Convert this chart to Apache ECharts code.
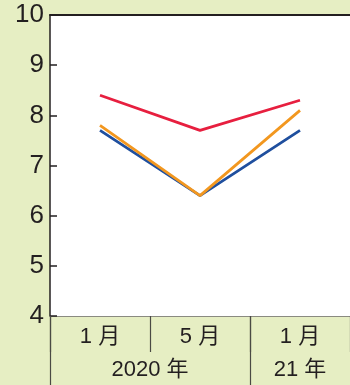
<!DOCTYPE html>
<html>
<head>
<meta charset="utf-8">
<script src="https://cdn.jsdelivr.net/npm/echarts@6/dist/echarts.min.js"></script>
<style>
  html, body { margin: 0; padding: 0; background: #e6eec3; }
  #chart { width: 350px; height: 385px; }
</style>
</head>
<body>
<div id="chart"></div>
<script>
// Month categories and the year groups they belong to
const months = ['1 月', '5 月', '1 月'];
const yearLabels = ['2020 年', '21 年'];
const yearSpans = [2, 1];

// Series values
const redValues = [8.4, 7.7, 8.3];
const orangeValues = [7.8, 6.4, 8.1];
const blueValues = [7.7, 6.4, 7.7];

// y-axis range
const yMin = 4, yMax = 10, yStep = 1;

// Centers and boundaries of the year groups, in category units
const yearCenters = [];
const yearBounds = [0];
let acc = 0;
yearSpans.forEach(s => { yearCenters.push(acc + s / 2); acc += s; yearBounds.push(acc); });

const font = '"Liberation Sans", "Noto Sans CJK JP", sans-serif';
const ink = '#231f20';

const chart = echarts.init(document.getElementById('chart'));
chart.setOption({
  backgroundColor: '#e6eec3',
  animation: false,
  grid: {
    left: 50, right: 0, top: 15, bottom: 69,
    show: true, backgroundColor: '#ffffff', borderWidth: 0
  },
  xAxis: [
    {
      type: 'category',
      data: months,
      boundaryGap: true,
      axisLine: { show: true, lineStyle: { color: '#8a8a80', width: 1 } },
      axisTick: { show: true, length: 36, lineStyle: { color: '#4a4a44', width: 1.2 } },
      axisLabel: { fontFamily: font, fontSize: 22, color: ink, margin: 10 },
      splitLine: { show: false }
    },
    {
      type: 'value',
      min: 0, max: months.length,
      position: 'bottom',
      axisLine: { show: false },
      axisTick: {
        show: true, length: 69,
        customValues: yearBounds.slice(0, -1),
        lineStyle: { color: '#4a4a44', width: 1.2 }
      },
      axisLabel: {
        customValues: yearCenters,
        formatter: v => yearLabels[yearCenters.indexOf(v)] || '',
        fontFamily: font, fontSize: 22, color: ink, margin: 43
      },
      splitLine: { show: false }
    },
    {
      type: 'category',
      data: months,
      position: 'top',
      axisLine: { show: true, lineStyle: { color: ink, width: 2 } },
      axisTick: { show: false },
      axisLabel: { show: false }
    }
  ],
  yAxis: {
    type: 'value',
    min: yMin, max: yMax, interval: yStep,
    axisLine: { show: true, lineStyle: { color: ink, width: 1.5 } },
    axisTick: { show: true, inside: true, length: 7, lineStyle: { color: ink, width: 1.5 } },
    axisLabel: { fontFamily: font, fontSize: 26, color: ink, margin: 6 },
    splitLine: { show: false }
  },
  series: [
    { type: 'line', data: blueValues, symbol: 'none', lineStyle: { color: '#1f4f9e', width: 2.8 }, z: 2 },
    { type: 'line', data: orangeValues, symbol: 'none', lineStyle: { color: '#f2971f', width: 2.8 }, z: 3 },
    { type: 'line', data: redValues, symbol: 'none', lineStyle: { color: '#e71f3f', width: 2.8 }, z: 4 }
  ]
});
</script>
</body>
</html>
